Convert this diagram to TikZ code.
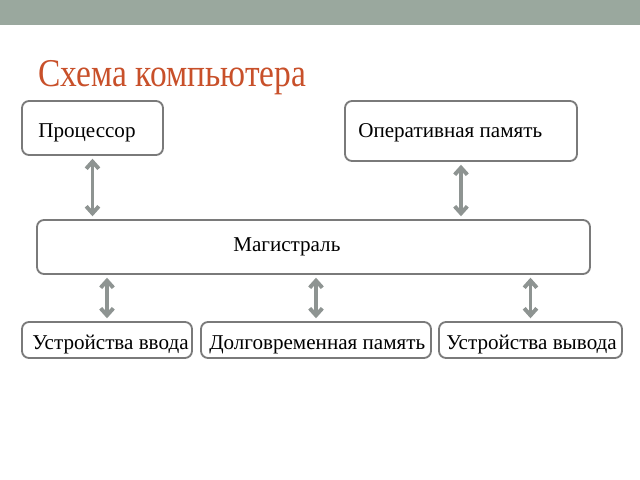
\documentclass[tikz,border=0pt]{standalone}
\usepackage{fontspec}
\setmainfont{Liberation Serif}
\usetikzlibrary{arrows.meta}
\definecolor{bannergray}{HTML}{9AA89E}
\definecolor{titlered}{HTML}{C8502A}
\definecolor{boxgray}{HTML}{7A7A7A}
\definecolor{arrowgray}{HTML}{8E9492}
\begin{document}
\begin{tikzpicture}[x=0.025cm, y=-0.025cm,
    block/.style={rectangle, rounded corners=5pt, draw=boxgray, line width=1.3pt, inner sep=0pt},
    label/.style={anchor=west, font=\fontsize{15}{18}\selectfont, inner sep=0pt},
    link/.style={{Straight Barb[length=5pt,width=9pt]}-{Straight Barb[length=5pt,width=9pt]}, draw=arrowgray, line width=2.8pt, shorten <=2pt, shorten >=2pt}
]
\useasboundingbox (0,0) rectangle (640,480);
\fill[bannergray] (0,0) rectangle (640,25);
\node[anchor=base west, text=titlered, font=\fontsize{28}{32}\selectfont, inner sep=0pt] (title) at (38,86) {\addfontfeature{FakeStretch=0.85}Схема компьютера};

% Blocks
\node[block, minimum width=141*0.025cm, minimum height=54*0.025cm] (cpu) at (92.5,128) {};
\node[block, minimum width=232*0.025cm, minimum height=60*0.025cm] (ram) at (461,131) {};
\node[block, minimum width=553*0.025cm, minimum height=54*0.025cm] (bus) at (313.5,247) {};
\node[block, minimum width=170*0.025cm, minimum height=36*0.025cm] (input) at (107,340) {};
\node[block, minimum width=230*0.025cm, minimum height=36*0.025cm] (storage) at (316,340) {};
\node[block, minimum width=183*0.025cm, minimum height=36*0.025cm] (output) at (530.5,340) {};

% Labels
\node[label] (cpulabel) at (38,133) {Процессор};
\node[label] (ramlabel) at (358,133) {Оперативная память};
\node[label] (buslabel) at (233,247) {Магистраль};
\node[label] (inputlabel) at (32,345) {Устройства ввода};
\node[label] (storagelabel) at (209,345) {Долговременная память};
\node[label] (outputlabel) at (446,345) {Устройства вывода};

% Links
\draw[link] (cpu.south) -- (cpu.south |- bus.north);
\draw[link] (ram.south) -- (ram.south |- bus.north);
\draw[link] (input.north |- bus.south) -- (input.north);
\draw[link] (storage.north |- bus.south) -- (storage.north);
\draw[link] (output.north |- bus.south) -- (output.north);

\end{tikzpicture}
\end{document}
